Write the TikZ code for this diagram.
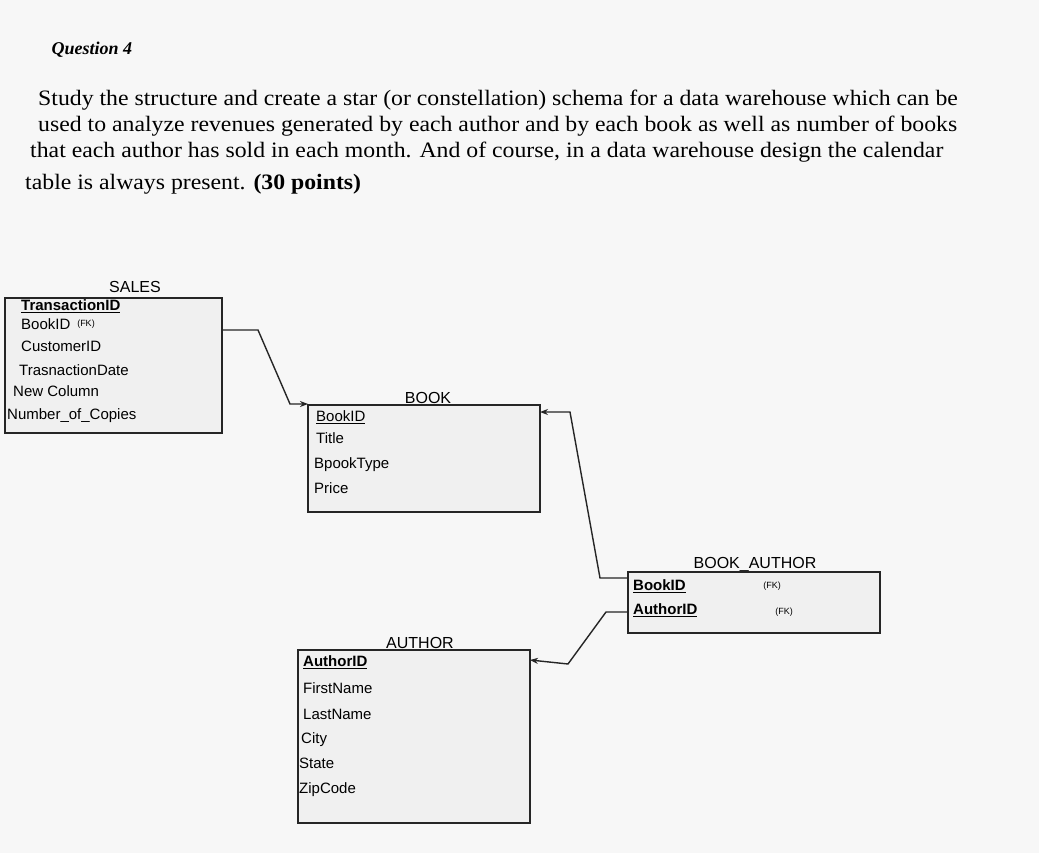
\documentclass[tikz,border=0pt]{standalone}
\usepackage{fontspec}
\setmainfont{Liberation Serif}
\newfontfamily\arialf{Liberation Sans}
\usetikzlibrary{arrows.meta}
\begin{document}
\begin{tikzpicture}[x=1pt,y=-1pt,
  tbl/.style={draw=black!85,line width=1.4pt,fill=black!6},
  attr/.style={anchor=west,font=\arialf\fontsize{15}{15}\selectfont,inner sep=1pt},
  ttl/.style={font=\arialf\fontsize{16}{16}\selectfont,inner sep=1pt},
  fk/.style={font=\arialf\fontsize{9}{9}\selectfont,inner sep=1pt},
  para/.style={anchor=west,font=\fontsize{22}{22}\selectfont,inner sep=0,xscale=1.08,transform shape},
  conn/.style={draw=black!85,line width=1.4pt,-{Stealth[length=8pt]}}]
\path[fill=black!3] (0,0) rectangle (1039,853);
\useasboundingbox (0,0) rectangle (1039,853);
\node[anchor=west,font=\bfseries\itshape\fontsize{18}{18}\selectfont] (q) at (48,50) {Question 4};
\node[para] (p1) at (38,100) {Study the structure and create a star (or constellation) schema for a data warehouse which can be};
\node[para] (p2) at (38,126) {used to analyze revenues generated by each author and by each book as well as number of books};
\node[para] (p3) at (30,152) {that each author has sold in each month. And of course, in a data warehouse design the calendar};
\node[para] (p4) at (25,184) {table is always present. \textbf{(30 points)}};
% SALES
\node[ttl] (st) at (135,287) {SALES};
\draw[tbl] (5,298) rectangle (222,433);
\coordinate (salesR) at (222,330);
\node[attr] (s1) at (20,306) {\textbf{\underline{TransactionID}}};
\node[attr] (s2) at (20,324) {BookID};
\node[fk] at (86,324) {(FK)};
\node[attr] (s3) at (20,346) {CustomerID};
\node[attr] (s4) at (18,370) {TrasnactionDate};
\node[attr] (s5) at (12,391) {New Column};
\node[attr] (s6) at (6,416) {Number\_of\_Copies};
% BOOK
\node[ttl] (bt) at (428,398) {BOOK};
\draw[tbl] (308,405) rectangle (540,512);
\coordinate (bookL) at (308,404);
\coordinate (bookR) at (540,412);
\node[attr] (b1) at (315,417) {\underline{BookID}};
\node[attr] (b2) at (315,438) {Title};
\node[attr] (b3) at (313,465) {BpookType};
\node[attr] (b4) at (313,488) {Price};
% BOOK_AUTHOR
\node[ttl] (bat) at (755,565) {BOOK\_AUTHOR};
\draw[tbl] (628,572) rectangle (880,633);
\coordinate (baL1) at (628,578);
\coordinate (baL2) at (628,612);
\node[attr] (ba1) at (632,586) {\textbf{\underline{BookID}}};
\node[fk] at (772,586) {(FK)};
\node[attr] (ba2) at (632,610) {\textbf{\underline{AuthorID}}};
\node[fk] at (784,612) {(FK)};
% AUTHOR
\node[ttl] (at) at (420,643) {AUTHOR};
\draw[tbl] (298,650) rectangle (530,823);
\coordinate (authR) at (530,660);
\node[attr] (a1) at (302,662) {\textbf{\underline{AuthorID}}};
\node[attr] (a2) at (302,688) {FirstName};
\node[attr] (a3) at (302,714) {LastName};
\node[attr] (a4) at (300,740) {City};
\node[attr] (a5) at (298,763) {State};
\node[attr] (a6) at (298,790) {ZipCode};
% connectors
\draw[conn] (salesR) -- (258,330) -- (290,404) -- (bookL);
\draw[conn] (baL1) -- (600,578) -- (570,412) -- (bookR);
\draw[conn] (baL2) -- (606,612) -- (568,664) -- (authR);
\end{tikzpicture}
\end{document}
